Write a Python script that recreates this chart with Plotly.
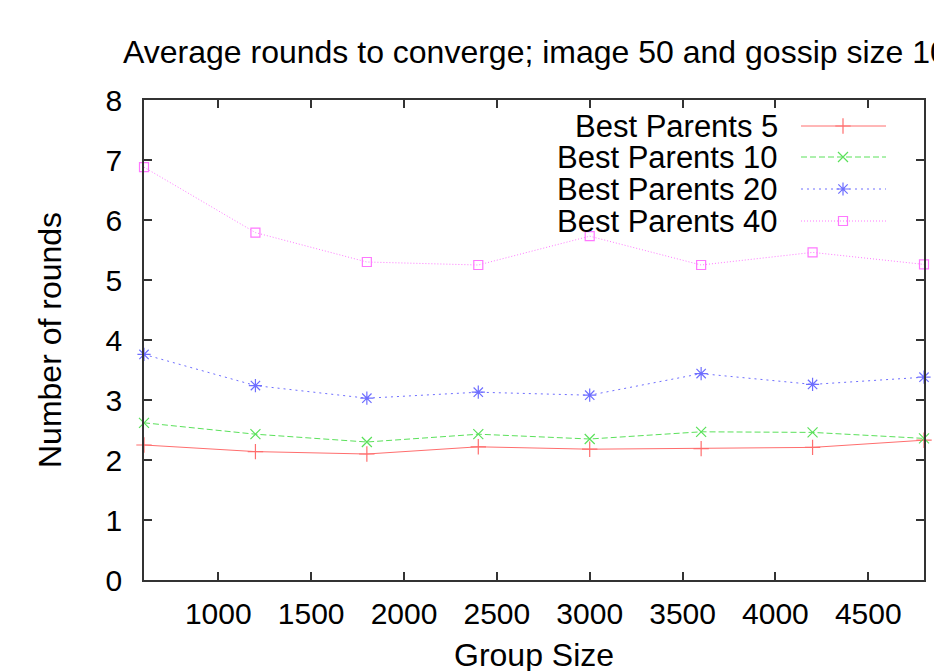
import plotly.graph_objects as go

group_size = [600, 1200, 1800, 2400, 3000, 3600, 4200, 4800]
best_parents_5 = [2.25, 2.14, 2.10, 2.22, 2.18, 2.19, 2.21, 2.33]
best_parents_10 = [2.62, 2.43, 2.30, 2.43, 2.35, 2.47, 2.46, 2.36]
best_parents_20 = [3.76, 3.24, 3.03, 3.13, 3.08, 3.44, 3.26, 3.38]
best_parents_40 = [6.88, 5.79, 5.30, 5.25, 5.73, 5.25, 5.46, 5.26]
series_names = ["Best Parents 5", "Best Parents 10", "Best Parents 20", "Best Parents 40"]
x_ticks = [1000, 1500, 2000, 2500, 3000, 3500, 4000, 4500]
y_ticks = [0, 1, 2, 3, 4, 5, 6, 7, 8]

FONT = "Liberation Sans, Arial, Helvetica, sans-serif"
OFF = 8  # page body margin
W, H = 942 - OFF, 671 - OFF
# plot box in screen pixels
L, R, T, B = 144, 924, 100, 580


def px(x):
    return (x - L) / (R - L)


def py(y):
    return (B - y) / (B - T)


styles = [
    dict(color="rgb(255,110,110)", dash="solid", symbol="cross-thin-open", size=11),
    dict(color="rgb(90,225,90)", dash="6px,3px", symbol="x-thin-open", size=10),
    dict(color="rgb(110,110,255)", dash="2px,4px", symbol="asterisk-open", size=11),
    dict(color="rgb(255,120,255)", dash="1px,2px", symbol="square-open", size=9),
]
all_series = [best_parents_5, best_parents_10, best_parents_20, best_parents_40]

fig = go.Figure()
for name, ys, st in zip(series_names, all_series, styles):
    fig.add_trace(go.Scatter(
        x=group_size, y=ys, name=name, mode="lines+markers",
        line=dict(color=st["color"], width=1, dash=st["dash"]),
        marker=dict(symbol=st["symbol"], size=st["size"],
                    line=dict(color=st["color"], width=1.2), color=st["color"]),
        cliponaxis=False, showlegend=False,
    ))

# gnuplot-style key: text right-aligned, sample on the right
key_rows = [126, 157, 189, 221]
key_x0, key_x1, key_xm, key_text_right = 801, 886, 843, 780
annotations = []
for name, st, ry in zip(series_names, styles, key_rows):
    fig.add_trace(go.Scatter(
        x=[key_x0, key_x1], y=[ry, ry], mode="lines", xaxis="x2", yaxis="y2",
        line=dict(color=st["color"], width=1, dash=st["dash"]),
        showlegend=False, hoverinfo="skip", cliponaxis=False))
    fig.add_trace(go.Scatter(
        x=[key_xm], y=[ry], mode="markers", xaxis="x2", yaxis="y2",
        marker=dict(symbol=st["symbol"], size=st["size"],
                    line=dict(color=st["color"], width=1.2), color=st["color"]),
        showlegend=False, hoverinfo="skip", cliponaxis=False))
    annotations.append(dict(
        x=key_text_right, y=ry, xref="x2", yref="y2", text=name, showarrow=False,
        xanchor="right", yanchor="middle", font=dict(family=FONT, size=31, color="black")))

annotations.append(dict(
    x=px(121), y=py(52), xref="paper", yref="paper",
    text="Average rounds to converge; image 50 and gossip size 10",
    showarrow=False, xanchor="left", yanchor="middle",
    font=dict(family=FONT, size=32, color="black")))
annotations.append(dict(
    x=px(50), y=0.5, xref="paper", yref="paper", text="Number of rounds",
    textangle=-90, showarrow=False, xanchor="center", yanchor="middle",
    font=dict(family=FONT, size=32, color="black")))
annotations.append(dict(
    x=0.5, y=py(655), xref="paper", yref="paper", text="Group Size",
    showarrow=False, xanchor="center", yanchor="middle",
    font=dict(family=FONT, size=32, color="black")))

axis_common = dict(showgrid=False, zeroline=False, showline=True, linecolor="#333333",
                   linewidth=1.5, mirror="allticks", ticks="inside", ticklen=8,
                   tickwidth=1.5, tickcolor="#333333",
                   tickfont=dict(family=FONT, size=30, color="black"))

fig.update_layout(
    width=W, height=H,
    margin=dict(l=L - OFF, r=W - (R - OFF), t=T - OFF, b=H - (B - OFF), pad=0),
    paper_bgcolor="white", plot_bgcolor="white",
    xaxis=dict(range=[600, 4800], tickvals=x_ticks, ticklabelstandoff=6, **axis_common),
    yaxis=dict(range=[0, 8], tickvals=y_ticks, ticklabelstandoff=14, **axis_common),
    xaxis2=dict(range=[L, R], overlaying="x", visible=False, domain=[0, 1]),
    yaxis2=dict(range=[B, T], overlaying="y", visible=False, domain=[0, 1]),
    annotations=annotations,
    showlegend=False,
)

fig.write_html("out.html")
